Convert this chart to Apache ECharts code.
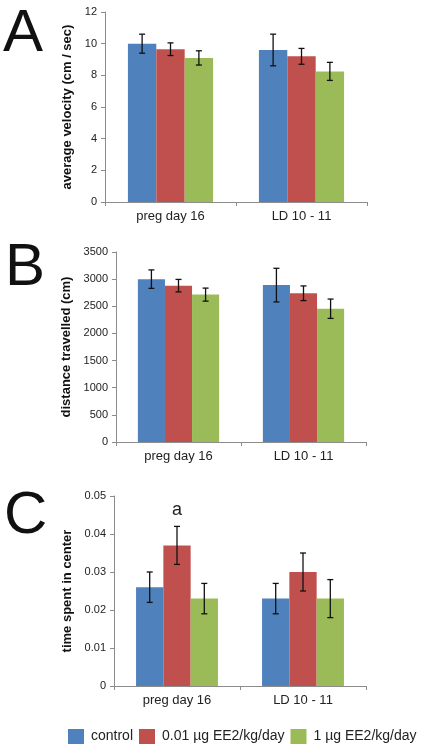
<!DOCTYPE html>
<html>
<head>
<meta charset="utf-8">
<script src="https://cdn.jsdelivr.net/npm/echarts@6/dist/echarts.min.js"></script>
<style>html,body{margin:0;padding:0;background:#fff;}#c{width:441px;height:750px;}</style>
</head>
<body>
<div id="c"></div>
<script>
const categories = ['preg day 16', 'LD 10 - 11'];
const seriesNames = ['control', '0.01 \u00b5g EE2/kg/day', '1 \u00b5g EE2/kg/day'];
const colors = ['#4F81BD', '#C0504D', '#9BBB59'];

// Panel A: average velocity (cm / sec)
const velControl = [10.0, 9.6];
const velControlErr = [0.6, 1.0];
const velLow = [9.65, 9.2];
const velLowErr = [0.4, 0.5];
const velHigh = [9.1, 8.25];
const velHighErr = [0.45, 0.57];

// Panel B: distance travelled (cm)
const distControl = [3000, 2890];
const distControlErr = [170, 310];
const distLow = [2880, 2740];
const distLowErr = [115, 135];
const distHigh = [2715, 2455];
const distHighErr = [120, 178];

// Panel C: time spent in center
const cenControl = [0.026, 0.023];
const cenControlErr = [0.004, 0.004];
const cenLow = [0.037, 0.030];
const cenLowErr = [0.005, 0.005];
const cenHigh = [0.023, 0.023];
const cenHighErr = [0.004, 0.005];

const yTicksA = {min: 0, max: 12, interval: 2};
const yTicksB = {min: 0, max: 3500, interval: 500};
const yTicksC = {min: 0, max: 0.05, interval: 0.01};

const panels = [
  {name: 'average velocity (cm / sec)', vals: [velControl, velLow, velHigh], errs: [velControlErr, velLowErr, velHighErr], ticks: yTicksA,
   grid: {left: 105, width: 262, top: 12, height: 190}, nameGap: 22},
  {name: 'distance travelled (cm)', vals: [distControl, distLow, distHigh], errs: [distControlErr, distLowErr, distHighErr], ticks: yTicksB,
   grid: {left: 116, width: 250, top: 252, height: 190}, nameGap: 34},
  {name: 'time spent in center', vals: [cenControl, cenLow, cenHigh], errs: [cenControlErr, cenLowErr, cenHighErr], ticks: yTicksC,
   grid: {left: 114, width: 252, top: 496, height: 190}, nameGap: 32}
];
const annotations = [{panel: 2, series: 1, cat: 0, text: 'a'}];

const CAT_GAP = 0.35;
function errRender(si) {
  return function (params, api) {
    const cat = api.value(0);
    const lo = api.coord([cat, api.value(1)]);
    const hi = api.coord([cat, api.value(2)]);
    const band = api.size([1, 0])[0];
    const barW = band * (1 - CAT_GAP) / 3;
    const x = lo[0] + (si - 1) * barW;
    const cap = 3;
    const st = {stroke: '#111', lineWidth: 1.3};
    return {type: 'group', children: [
      {type: 'line', shape: {x1: x, y1: lo[1], x2: x, y2: hi[1]}, style: st},
      {type: 'line', shape: {x1: x - cap, y1: lo[1], x2: x + cap, y2: lo[1]}, style: st},
      {type: 'line', shape: {x1: x - cap, y1: hi[1], x2: x + cap, y2: hi[1]}, style: st}
    ]};
  };
}

const grid = [], xAxis = [], yAxis = [], series = [];
const axisColor = '#8c8c8c';
panels.forEach((p, pi) => {
  grid.push(p.grid);
  xAxis.push({type: 'category', gridIndex: pi, data: categories,
    axisLine: {lineStyle: {color: axisColor}}, axisTick: {show: true, length: 4, lineStyle: {color: axisColor}},
    axisLabel: {fontSize: 13, color: '#222', margin: 8, fontFamily: 'Liberation Sans'}});
  yAxis.push({type: 'value', gridIndex: pi, min: p.ticks.min, max: p.ticks.max, interval: p.ticks.interval,
    name: p.name, nameLocation: 'middle', nameGap: p.nameGap,
    nameTextStyle: {fontSize: 13, fontWeight: 'bold', color: '#111', fontFamily: 'Liberation Sans'},
    axisLine: {show: true, lineStyle: {color: axisColor}}, axisTick: {show: true, length: 4, lineStyle: {color: axisColor}},
    splitLine: {show: false},
    axisLabel: {fontSize: 11, color: '#222', margin: 8, fontFamily: 'Liberation Sans',
      formatter: v => String(+Number(v).toPrecision(10))}});
  p.vals.forEach((v, si) => {
    const data = v.map((val, ci) => {
      const ann = annotations.find(a => a.panel === pi && a.series === si && a.cat === ci);
      if (ann) return {value: val, label: {show: true, position: 'top', distance: 26, formatter: ann.text, fontSize: 18, color: '#222', fontFamily: 'Liberation Sans'}};
      return val;
    });
    series.push({type: 'bar', name: seriesNames[si], xAxisIndex: pi, yAxisIndex: pi, data: data,
      itemStyle: {color: colors[si]}, barGap: '0%', barCategoryGap: (CAT_GAP * 100) + '%', animation: false});
  });
  p.vals.forEach((v, si) => {
    series.push({type: 'custom', name: 'err' + pi + si, xAxisIndex: pi, yAxisIndex: pi,
      data: v.map((val, ci) => [ci, val - p.errs[si][ci], val + p.errs[si][ci]]),
      encode: {x: 0, y: [1, 2]}, renderItem: errRender(si), z: 5, animation: false, silent: true});
  });
});

const chart = echarts.init(document.getElementById('c'), null, {renderer: 'canvas'});
chart.setOption({
  backgroundColor: '#fff',
  animation: false,
  grid: grid, xAxis: xAxis, yAxis: yAxis, series: series,
  legend: {data: seriesNames, left: 63, top: 724, itemWidth: 16, itemHeight: 15, itemGap: 6,
    icon: 'rect', selectedMode: false,
    textStyle: {fontSize: 14, color: '#222', fontFamily: 'Liberation Sans', padding: [0, 0, 0, 2]}},
  graphic: [
    {type: 'text', left: 3, top: 4, style: {text: 'A', fontSize: 60, fill: '#111', fontFamily: 'Liberation Sans'}},
    {type: 'text', left: 5, top: 238, style: {text: 'B', fontSize: 60, fill: '#111', fontFamily: 'Liberation Sans'}},
    {type: 'text', left: 4, top: 486, style: {text: 'C', fontSize: 60, fill: '#111', fontFamily: 'Liberation Sans'}}
  ]
});
</script>
</body>
</html>
